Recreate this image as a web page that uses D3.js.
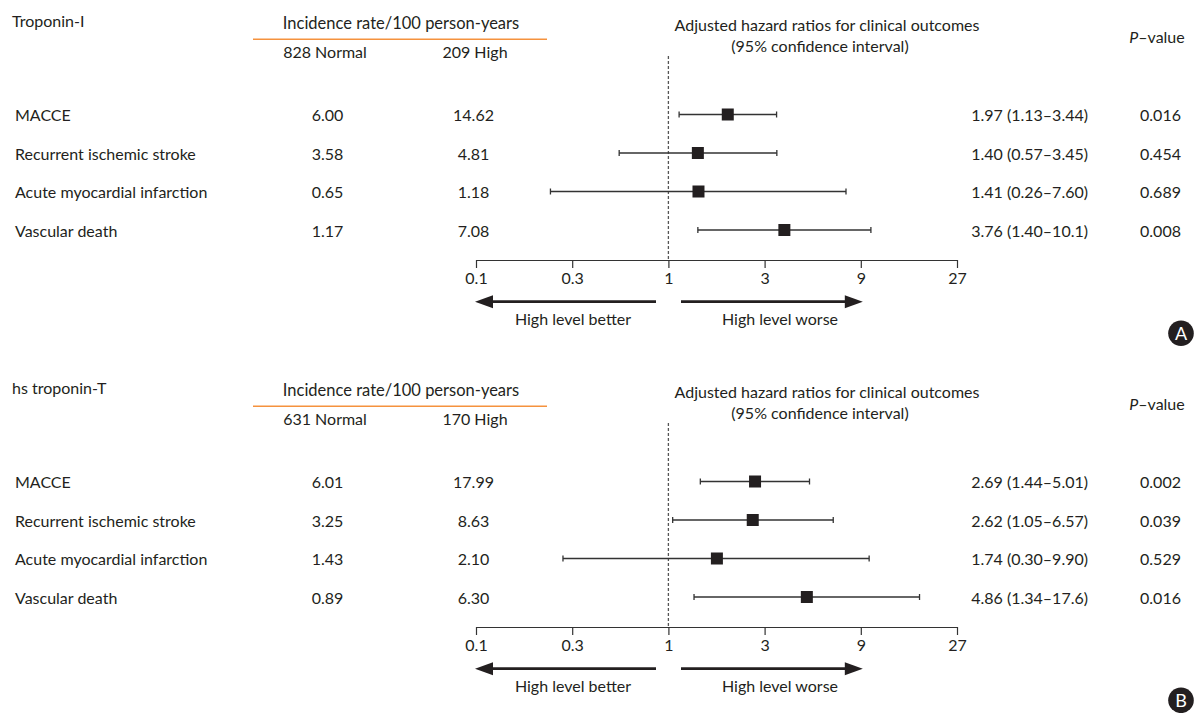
<!DOCTYPE html>
<html>
<head>
<meta charset="utf-8">
<script src="https://cdn.jsdelivr.net/npm/d3@7"></script>
<style>
  body { margin: 0; background: #fff; }
  svg text { font-family: Lato, "Liberation Sans", sans-serif; fill: #231f20; }
</style>
</head>
<body>
<div id="chart"></div>
<script>
// ----- Data -----
const outcomes = ["MACCE", "Recurrent ischemic stroke", "Acute myocardial infarction", "Vascular death"];

const panelTitles  = ["Troponin-I", "hs troponin-T"];
const panelBadges  = ["A", "B"];
const normalLabels = ["828 Normal", "631 Normal"];
const highLabels   = ["209 High", "170 High"];

const normalRateA = [6.00, 3.58, 0.65, 1.17];
const highRateA   = [14.62, 4.81, 1.18, 7.08];
const hrA         = [1.97, 1.40, 1.41, 3.76];
const lowerA      = [1.13, 0.57, 0.26, 1.40];
const upperA      = [3.44, 3.45, 7.60, 10.1];
const pValueA     = [0.016, 0.454, 0.689, 0.008];

const normalRateB = [6.01, 3.25, 1.43, 0.89];
const highRateB   = [17.99, 8.63, 2.10, 6.30];
const hrB         = [2.69, 2.62, 1.74, 4.86];
const lowerB      = [1.44, 1.05, 0.30, 1.34];
const upperB      = [5.01, 6.57, 9.90, 17.6];
const pValueB     = [0.002, 0.039, 0.529, 0.016];

// log3 axis: ticks are powers of 3, labelled as in the figure
const tickValues = [1 / 9, 1 / 3, 1, 3, 9, 27];
const tickLabels = ["0.1", "0.3", "1", "3", "9", "27"];

// ----- Layout -----
const width  = 1195;
const height = 713;
const panelOffset = 367;
const fontSize = 16;

const svg = d3.select("#chart")
  .append("svg")
  .attr("width", width)
  .attr("height", height);

const x = d3.scaleLog()
  .base(3)
  .domain([tickValues[0], tickValues[tickValues.length - 1]])
  .range([476, 957]);

const y = d3.scalePoint()
  .domain(outcomes)
  .range([114.5, 230]);

const fmtHR = v => (v >= 10 ? v.toFixed(1) : v.toFixed(2));

const panels = [
  { normal: normalRateA, high: highRateA, hr: hrA, lo: lowerA, hi: upperA, p: pValueA },
  { normal: normalRateB, high: highRateB, hr: hrB, lo: lowerB, hi: upperB, p: pValueB }
];

panels.forEach((pd, pi) => {
  const rows = outcomes.map((o, i) => ({
    outcome: o,
    normal: pd.normal[i],
    high: pd.high[i],
    hr: pd.hr[i],
    lo: pd.lo[i],
    hi: pd.hi[i],
    p: pd.p[i]
  }));

  const g = svg.append("g")
    .attr("transform", `translate(0,${pi * panelOffset})`)
    .attr("font-size", fontSize);

  // ---- headers ----
  g.append("text").attr("x", 12).attr("y", 26.7).text(panelTitles[pi]);

  g.append("text")
    .attr("x", 401).attr("y", 29.3)
    .attr("text-anchor", "middle")
    .attr("font-size", 16.5)
    .text("Incidence rate/100 person-years");

  g.append("line")
    .attr("x1", 253).attr("x2", 547)
    .attr("y1", 39.3).attr("y2", 39.3)
    .attr("stroke", "#f5923e")
    .attr("stroke-width", 1.4);

  g.append("text").attr("x", 325).attr("y", 58.3)
    .attr("text-anchor", "middle").text(normalLabels[pi]);
  g.append("text").attr("x", 475).attr("y", 58.3)
    .attr("text-anchor", "middle").text(highLabels[pi]);

  g.append("text").attr("x", 827).attr("y", 31)
    .attr("text-anchor", "middle").text("Adjusted hazard ratios for clinical outcomes");
  g.append("text").attr("x", 820).attr("y", 52)
    .attr("text-anchor", "middle").text("(95% confidence interval)");

  const pv = g.append("text").attr("x", 1157).attr("y", 42.7)
    .attr("text-anchor", "middle");
  pv.append("tspan").attr("font-style", "italic").text("P");
  pv.append("tspan").text("–value");

  // ---- table columns ----
  const rowText = (cls, xPos, anchor, fn) => {
    g.selectAll("." + cls)
      .data(rows)
      .enter()
      .append("text")
      .attr("class", cls)
      .attr("x", xPos)
      .attr("y", d => y(d.outcome) + 6.5)
      .attr("text-anchor", anchor)
      .text(fn);
  };

  rowText("lbl", 15, "start", d => d.outcome);
  rowText("nrm", 327.5, "middle", d => d.normal.toFixed(2));
  rowText("hgh", 473.5, "middle", d => d.high.toFixed(2));
  rowText("hrt", 1088, "end", d => `${fmtHR(d.hr)} (${fmtHR(d.lo)}–${fmtHR(d.hi)})`);
  rowText("pvl", 1160.5, "middle", d => d.p.toFixed(3));

  // ---- reference line at HR = 1 ----
  g.append("line")
    .attr("x1", x(1)).attr("x2", x(1))
    .attr("y1", 56).attr("y2", 260)
    .attr("stroke", "#555")
    .attr("stroke-width", 1.3)
    .attr("stroke-dasharray", "3,2");

  // ---- axis ----
  const axis = g.append("g")
    .attr("transform", "translate(0,260)")
    .call(d3.axisBottom(x)
      .tickValues(tickValues)
      .tickFormat((d, i) => tickLabels[i])
      .tickSize(8)
      .tickSizeOuter(0)
      .tickPadding(5));
  axis.attr("font-family", null).attr("font-size", fontSize);
  axis.select(".domain").attr("stroke", "#333").attr("stroke-width", 1.2);
  axis.selectAll(".tick line").attr("stroke", "#333").attr("stroke-width", 1.2);
  axis.selectAll(".tick text").attr("fill", "#231f20");

  // ---- CI lines, caps, point estimates ----
  g.selectAll(".ci")
    .data(rows)
    .enter()
    .append("line")
    .attr("class", "ci")
    .attr("x1", d => x(d.lo)).attr("x2", d => x(d.hi))
    .attr("y1", d => y(d.outcome)).attr("y2", d => y(d.outcome))
    .attr("stroke", "#333")
    .attr("stroke-width", 1.5);

  ["lo", "hi"].forEach(k => {
    g.selectAll(".cap-" + k)
      .data(rows)
      .enter()
      .append("line")
      .attr("class", "cap-" + k)
      .attr("x1", d => x(d[k])).attr("x2", d => x(d[k]))
      .attr("y1", d => y(d.outcome) - 3).attr("y2", d => y(d.outcome) + 3)
      .attr("stroke", "#333")
      .attr("stroke-width", 1.3);
  });

  const sq = 12;
  g.selectAll(".est")
    .data(rows)
    .enter()
    .append("rect")
    .attr("class", "est")
    .attr("x", d => x(d.hr) - sq / 2)
    .attr("y", d => y(d.outcome) - sq / 2)
    .attr("width", sq)
    .attr("height", sq)
    .attr("fill", "#231f20");

  // ---- direction arrows ----
  const arrowY = 301.7;
  const head = 18, half = 6.5;
  const arrows = [
    { from: 656, to: x(tickValues[0]) - 1, label: "High level better", lx: 573 },
    { from: 681, to: x(9) + 2, label: "High level worse", lx: 780 }
  ];
  arrows.forEach(a => {
    const dir = a.to > a.from ? 1 : -1;
    g.append("line")
      .attr("x1", a.from).attr("x2", a.to - dir * head * 0.8)
      .attr("y1", arrowY).attr("y2", arrowY)
      .attr("stroke", "#231f20")
      .attr("stroke-width", 2.8);
    g.append("path")
      .attr("d", `M${a.to},${arrowY} L${a.to - dir * head},${arrowY - half} L${a.to - dir * head},${arrowY + half} Z`)
      .attr("fill", "#231f20");
    g.append("text")
      .attr("x", a.lx).attr("y", 325)
      .attr("text-anchor", "middle")
      .text(a.label);
  });

  // ---- panel badge ----
  const badgeY = 333.3;
  g.append("circle")
    .attr("cx", 1181).attr("cy", badgeY).attr("r", 12.8)
    .attr("fill", "#231f20");
  g.append("text")
    .attr("x", 1181).attr("y", badgeY + 6.3)
    .attr("text-anchor", "middle")
    .attr("font-size", 18)
    .style("fill", "#fff")
    .text(panelBadges[pi]);
});
</script>
</body>
</html>
